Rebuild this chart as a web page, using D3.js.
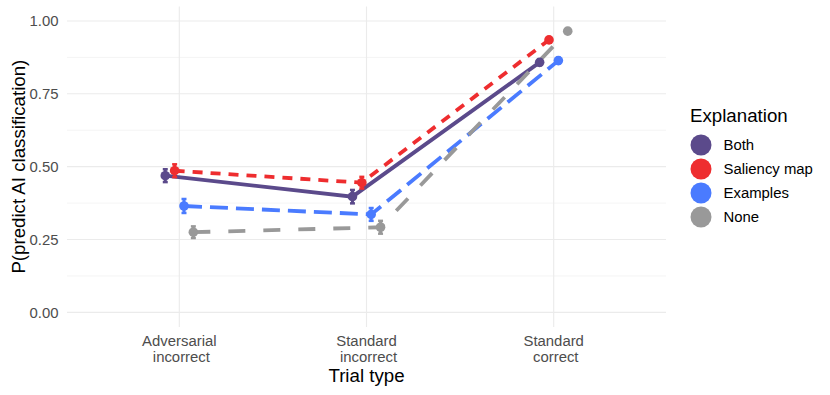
<!DOCTYPE html>
<html>
<head>
<meta charset="utf-8">
<script src="https://cdn.jsdelivr.net/npm/d3@7"></script>
<style>
  body { margin: 0; background: #fff; }
  svg { font-family: "Liberation Sans", Arial, Helvetica, sans-serif; }
</style>
</head>
<body>
<div id="chart"></div>
<script>
// data
const trialTypes = ["Adversarial\n\u00a0incorrect", "Standard\n\u00a0incorrect", "Standard\n\u00a0correct"];
const explanations = ["Both", "Saliency map", "Examples", "None"];
const meanBoth     = [0.469, 0.397, 0.858];
const meanSaliency = [0.486, 0.445, 0.935];
const meanExamples = [0.365, 0.336, 0.864];
const meanNone     = [0.275, 0.292, 0.965];
const seBoth     = [0.022, 0.023, 0.010];
const seSaliency = [0.022, 0.020, 0.008];
const seExamples = [0.024, 0.022, 0.010];
const seNone     = [0.020, 0.022, 0.008];
const yTicks = [0, 0.25, 0.5, 0.75, 1];
const yMinor = [0.125, 0.375, 0.625, 0.875];

const colors = { "Both": "#5b4a8b", "Saliency map": "#ee2d2f", "Examples": "#4a7bff", "None": "#999999" };
const dashes = { "Both": null, "Saliency map": "10,8", "Examples": "18,8", "None": "17,18" };

const series = [
    { name: "Both", mean: meanBoth, se: seBoth },
    { name: "Saliency map", mean: meanSaliency, se: seSaliency },
    { name: "Examples", mean: meanExamples, se: seExamples },
    { name: "None", mean: meanNone, se: seNone }
];

const width = 830, height = 395;
const panel = { left: 67, right: 666, top: 6.4, bottom: 326.9 };

const svg = d3.select('#chart')
    .append('svg')
    .attr('width', width)
    .attr('height', height);

const x = d3.scalePoint()
    .domain(trialTypes)
    .range([panel.left, panel.right])
    .padding(0.6);

const y = d3.scaleLinear()
    .domain([-0.05, 1.05])
    .range([panel.bottom, panel.top]);

// dodge: 4 groups across 0.2 of a category step
const dodge = d3.scaleBand()
    .domain(explanations)
    .range([-0.1, 0.1]);

const px = (cat, name) => x(cat) + (dodge(name) + dodge.bandwidth() / 2) * x.step();

// grid
const grid = svg.append('g');
grid.selectAll('line.minor').data(yMinor).enter().append('line')
    .attr('x1', panel.left).attr('x2', panel.right)
    .attr('y1', d => y(d)).attr('y2', d => y(d))
    .attr('stroke', '#ebebeb').attr('stroke-width', 0.55);
grid.selectAll('line.major').data(yTicks).enter().append('line')
    .attr('x1', panel.left).attr('x2', panel.right)
    .attr('y1', d => y(d)).attr('y2', d => y(d))
    .attr('stroke', '#ebebeb').attr('stroke-width', 1.1);
grid.selectAll('line.vmajor').data(trialTypes).enter().append('line')
    .attr('x1', d => x(d)).attr('x2', d => x(d))
    .attr('y1', panel.top).attr('y2', panel.bottom)
    .attr('stroke', '#ebebeb').attr('stroke-width', 1.1);

// y axis labels
svg.append('g').selectAll('text').data(yTicks).enter().append('text')
    .attr('x', 58.5)
    .attr('y', d => y(d))
    .attr('dy', '0.35em')
    .attr('text-anchor', 'end')
    .attr('font-size', 14.9)
    .attr('fill', '#4d4d4d')
    .text(d => d3.format('.2f')(d));

// x axis labels (two lines)
const xl = svg.append('g').selectAll('text').data(trialTypes).enter().append('text')
    .attr('text-anchor', 'middle')
    .attr('font-size', 14.9)
    .attr('fill', '#4d4d4d');
xl.each(function(d) {
    const lines = d.split('\n');
    d3.select(this).selectAll('tspan').data(lines).enter().append('tspan')
        .attr('x', x(d))
        .attr('y', (l, i) => 346 + i * 15.5)
        .text(l => l);
});

// axis titles
svg.append('text')
    .attr('x', (panel.left + panel.right) / 2)
    .attr('y', 382)
    .attr('text-anchor', 'middle')
    .attr('font-size', 18.7)
    .attr('fill', '#000')
    .text('Trial type');

svg.append('text')
    .attr('transform', `translate(25, ${(panel.top + panel.bottom) / 2}) rotate(-90)`)
    .attr('text-anchor', 'middle')
    .attr('font-size', 18.7)
    .attr('fill', '#000')
    .text('P(predict AI classification)');

// lines
const line = d3.line()
    .x(d => d.x)
    .y(d => d.y);

const plot = svg.append('g');
series.forEach(s => {
    const pts = trialTypes.map((t, i) => ({ x: px(t, s.name), y: y(s.mean[i]) }));
    plot.append('path')
        .attr('d', line(pts))
        .attr('fill', 'none')
        .attr('stroke', colors[s.name])
        .attr('stroke-width', 3.8)
        .attr('stroke-dasharray', dashes[s.name]);
});

// error bars and points
series.forEach(s => {
    const g = plot.append('g');
    trialTypes.forEach((t, i) => {
        const cx = px(t, s.name);
        const lo = y(s.mean[i] - s.se[i]), hi = y(s.mean[i] + s.se[i]);
        g.append('line')
            .attr('x1', cx).attr('x2', cx)
            .attr('y1', lo).attr('y2', hi)
            .attr('stroke', colors[s.name]).attr('stroke-width', 3);
        [lo, hi].forEach(v => {
            g.append('line')
                .attr('x1', cx - 2.5).attr('x2', cx + 2.5)
                .attr('y1', v).attr('y2', v)
                .attr('stroke', colors[s.name]).attr('stroke-width', 2.5);
        });
        g.append('circle')
            .attr('cx', cx)
            .attr('cy', y(s.mean[i]))
            .attr('r', 4.8)
            .attr('fill', colors[s.name]);
    });
});

// legend
const legend = svg.append('g');
legend.append('text')
    .attr('x', 690)
    .attr('y', 122)
    .attr('font-size', 18.7)
    .attr('fill', '#000')
    .text('Explanation');

const keys = legend.selectAll('g.key').data(explanations).enter().append('g')
    .attr('transform', (d, i) => `translate(701, ${145 + i * 24})`);
keys.append('circle')
    .attr('r', 10.5)
    .attr('fill', d => colors[d]);
keys.append('text')
    .attr('x', 22.5)
    .attr('y', 0)
    .attr('dy', '0.35em')
    .attr('font-size', 14.9)
    .attr('fill', '#000')
    .text(d => d);
</script>
</body>
</html>
